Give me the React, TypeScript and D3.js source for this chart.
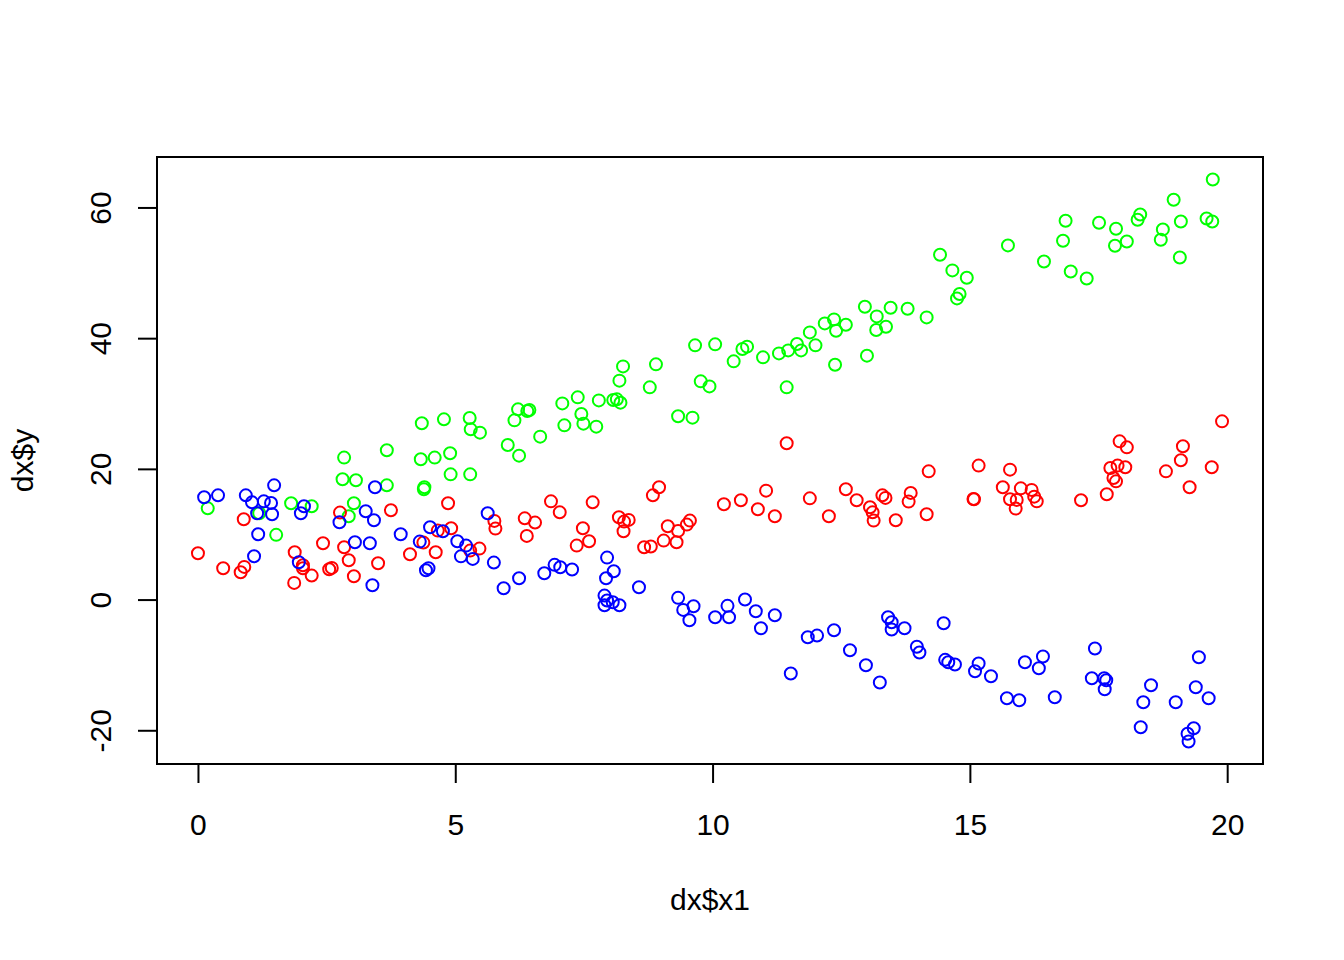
import * as d3 from "d3";
import { useEffect, useRef } from "react";

// scatter of dx$y against dx$x1, three groups coloured by R's red / green / blue

const greenPoints: [number, number][] = [
  [0.19, 13.96], [1.19, 13.2], [1.52, 9.9], [1.81, 14.73], [2.21, 14.27],
  [2.81, 18.4], [2.84, 21.72], [2.93, 12.74], [3.03, 14.73], [3.07, 18.25],
  [3.67, 22.84], [3.67, 17.48], [4.33, 21.46], [4.35, 26.97], [4.39, 16.87],
  [4.4, 17.18], [4.6, 21.72], [4.78, 27.58], [4.9, 22.38], [4.91, 19.16],
  [5.28, 27.79], [5.3, 26.05], [5.29, 19.16], [5.48, 25.54], [6.02, 23.66],
  [6.15, 27.42], [6.22, 29.11], [6.24, 22.02], [6.4, 28.86], [6.44, 29.01],
  [6.65, 24.93], [7.08, 30.02], [7.12, 26.66], [7.38, 30.94], [7.45, 28.4],
  [7.49, 26.92], [7.74, 26.46], [7.79, 30.48], [8.07, 30.54], [8.14, 30.64],
  [8.21, 30.13], [8.19, 33.5], [8.26, 35.68], [8.78, 32.47], [8.9, 35.99],
  [9.33, 28.04], [9.61, 27.84], [9.66, 38.9], [9.77, 33.39], [9.94, 32.62],
  [10.05, 39.05], [10.41, 36.45], [10.58, 38.34], [10.67, 38.7], [10.98, 37.06],
  [11.29, 37.67], [11.44, 32.47], [11.47, 38.13], [11.64, 39.11], [11.72, 38.13],
  [11.89, 40.88], [12.0, 38.9], [12.18, 42.26], [12.36, 42.87], [12.38, 35.94],
  [12.4, 41.14], [12.59, 42.06], [12.96, 44.81], [13.0, 37.32], [13.19, 43.33],
  [13.18, 41.25], [13.37, 41.75], [13.46, 44.66], [13.79, 44.51], [14.16, 43.18],
  [14.42, 52.77], [14.66, 50.37], [14.75, 46.08], [14.8, 46.76], [14.94, 49.25],
  [15.74, 54.19], [16.44, 51.74], [16.81, 54.91], [16.86, 57.97], [16.96, 50.21],
  [17.27, 49.14], [17.51, 57.66], [17.82, 54.14], [17.84, 56.74], [18.05, 54.8],
  [18.26, 58.12], [18.31, 58.93], [18.71, 55.06], [18.75, 56.64], [18.96, 61.18],
  [19.08, 52.35], [19.1, 57.86], [19.6, 58.32], [19.71, 57.86], [19.72, 64.28],
];

const redPoints: [number, number][] = [
  [0.0, 7.08], [0.49, 4.79], [0.83, 4.18], [0.89, 12.28], [0.9, 5.0],
  [1.87, 2.55], [1.88, 7.23], [2.04, 5.25], [2.04, 4.79], [2.21, 3.67],
  [2.43, 8.61], [2.55, 4.63], [2.6, 4.85], [2.76, 13.31], [2.84, 8.0],
  [2.93, 6.01], [3.03, 3.56], [3.5, 5.55], [3.75, 13.66], [4.12, 6.93],
  [4.38, 8.72], [4.62, 7.23], [4.66, 10.55], [4.86, 14.73], [4.92, 10.91],
  [5.29, 7.49], [5.47, 7.8], [5.76, 12.04], [5.78, 10.86], [6.35, 12.43],
  [6.39, 9.74], [6.55, 11.78], [6.86, 15.03], [7.03, 13.35], [7.36, 8.26],
  [7.48, 10.91], [7.6, 8.92], [7.67, 14.88], [8.18, 12.59], [8.28, 11.93],
  [8.37, 12.19], [8.27, 10.45], [8.67, 8.0], [8.8, 8.11], [8.84, 15.95],
  [8.96, 17.18], [9.05, 9.02], [9.13, 11.21], [9.3, 8.76], [9.33, 10.51],
  [9.5, 11.47], [9.56, 12.08], [10.22, 14.58], [10.55, 15.19], [10.88, 13.81],
  [11.04, 16.67], [11.21, 12.74], [11.44, 23.91], [11.89, 15.49], [12.26, 12.74],
  [12.59, 16.87], [12.8, 15.19], [13.06, 14.12], [13.11, 13.35], [13.13, 12.08],
  [13.3, 15.95], [13.36, 15.56], [13.56, 12.13], [13.81, 14.99], [13.85, 16.32],
  [14.16, 13.05], [14.2, 19.62], [15.07, 15.4], [15.08, 15.34], [15.17, 20.5],
  [15.64, 17.18], [15.78, 19.88], [15.78, 15.34], [15.91, 15.25], [15.89, 13.92],
  [15.99, 17.02], [16.2, 16.78], [16.25, 15.75], [16.3, 15.03], [17.16, 15.19],
  [17.66, 16.11], [17.73, 20.14], [17.79, 18.61], [17.84, 18.09], [17.87, 20.5],
  [17.91, 24.21], [18.02, 20.24], [18.05, 23.29], [18.81, 19.62], [19.1, 21.31],
  [19.14, 23.45], [19.27, 17.18], [19.7, 20.24], [19.9, 27.27],
];

const bluePoints: [number, number][] = [
  [0.12, 15.65], [0.39, 15.95], [0.93, 15.95], [1.05, 14.88], [1.09, 6.62],
  [1.15, 13.2], [1.17, 9.99], [1.28, 15.03], [1.42, 14.79], [1.44, 13.05],
  [1.48, 17.48], [1.96, 5.71], [2.0, 13.2], [2.06, 14.27], [2.75, 11.82],
  [3.05, 8.76], [3.26, 13.51], [3.34, 8.61], [3.39, 2.19], [3.42, 12.13],
  [3.44, 17.18], [3.94, 9.99], [4.31, 8.87], [4.43, 4.48], [4.48, 4.79],
  [4.51, 11.06], [4.76, 10.45], [5.04, 8.92], [5.11, 6.61], [5.21, 8.26],
  [5.34, 6.22], [5.63, 13.2], [5.75, 5.66], [5.94, 1.73], [6.24, 3.26],
  [6.73, 4.02], [6.93, 5.31], [7.04, 4.94], [7.27, 4.59], [7.9, 0.61],
  [7.9, -0.87], [7.93, 3.26], [7.95, 6.42], [7.95, -0.15], [8.06, -0.41],
  [8.08, 4.33], [8.19, -0.87], [8.57, 1.88], [9.33, 0.26], [9.43, -1.58],
  [9.55, -3.17], [9.63, -1.02], [10.05, -2.71], [10.29, -0.96], [10.32, -2.71],
  [10.63, 0.0], [10.84, -1.79], [10.94, -4.39], [11.21, -2.4], [11.52, -11.32],
  [11.85, -5.77], [12.03, -5.51], [12.36, -4.7], [12.67, -7.75], [12.98, -10.05],
  [13.25, -12.69], [13.41, -2.71], [13.48, -3.47], [13.48, -4.59], [13.73, -4.39],
  [13.97, -7.23], [14.02, -8.11], [14.49, -3.62], [14.52, -9.22], [14.58, -9.59],
  [14.71, -9.94], [15.1, -10.97], [15.17, -9.79], [15.41, -11.73], [15.72, -15.1],
  [15.96, -15.4], [16.07, -9.59], [16.34, -10.51], [16.42, -8.72], [16.65, -14.94],
  [17.37, -12.04], [17.43, -7.49], [17.61, -12.04], [17.65, -12.34], [17.62, -13.72],
  [18.32, -19.53], [18.37, -15.71], [18.52, -13.11], [19.0, -15.71], [19.23, -20.54],
  [19.25, -21.72], [19.35, -19.68], [19.39, -13.41], [19.45, -8.83], [19.64, -15.1],
];

const groups = [
  { name: "green", color: "#00ff00", points: greenPoints },
  { name: "red", color: "#ff0000", points: redPoints },
  { name: "blue", color: "#0000ff", points: bluePoints },
];

const xTicks = [0, 5, 10, 15, 20];
const yTicks = [-20, 0, 20, 40, 60];

export default function App() {
  const svgRef = useRef<SVGSVGElement>(null);

  useEffect(() => {
    if (!svgRef.current) return;
    const svg = d3.select(svgRef.current);
    svg.selectAll("*").remove();

    const W = 1344;
    const H = 960;
    const margin = { top: 157, right: 81, bottom: 196, left: 157 };
    const width = W - margin.left - margin.right;
    const height = H - margin.top - margin.bottom;
    const font = "'Liberation Sans', Arial, sans-serif";

    const all = groups.flatMap((g) => g.points);
    // R pads the data range by 4% on each side
    const pad = (ext: [number, number]): [number, number] => {
      const d = (ext[1] - ext[0]) * 0.04;
      return [ext[0] - d, ext[1] + d];
    };
    const x = d3
      .scaleLinear()
      .domain(pad(d3.extent(all, (p) => p[0]) as [number, number]))
      .range([0, width]);
    const y = d3
      .scaleLinear()
      .domain(pad(d3.extent(all, (p) => p[1]) as [number, number]))
      .range([height, 0]);

    const g = svg
      .append("g")
      .attr("transform", `translate(${margin.left},${margin.top})`);

    // points
    groups.forEach((grp) => {
      g.append("g")
        .selectAll("circle")
        .data(grp.points)
        .enter()
        .append("circle")
        .attr("cx", (d) => x(d[0]))
        .attr("cy", (d) => y(d[1]))
        .attr("r", 6)
        .attr("fill", "none")
        .attr("stroke", grp.color)
        .attr("stroke-width", 2);
    });

    // box
    g.append("rect")
      .attr("width", width)
      .attr("height", height)
      .attr("fill", "none")
      .attr("stroke", "black")
      .attr("stroke-width", 2);

    // R prints a plain hyphen for negative numbers
    const plain = (d: d3.NumberValue) => String(d);

    // x axis
    const xAxis = g
      .append("g")
      .attr("transform", `translate(0,${height})`)
      .call(
        d3
          .axisBottom(x)
          .tickValues(xTicks)
          .tickFormat(plain)
          .tickSize(19)
          .tickSizeOuter(0),
      );
    xAxis.select(".domain").remove();
    xAxis.selectAll("line").attr("stroke", "black").attr("stroke-width", 2);
    xAxis
      .selectAll("text")
      .attr("y", 71)
      .attr("dy", 0)
      .attr("fill", "black")
      .style("font-family", font)
      .style("font-size", "30px");

    // y axis, labels rotated like R's default las = 0
    const yAxis = g
      .append("g")
      .call(
        d3
          .axisLeft(y)
          .tickValues(yTicks)
          .tickFormat(plain)
          .tickSize(19)
          .tickSizeOuter(0),
      );
    yAxis.select(".domain").remove();
    yAxis.selectAll("line").attr("stroke", "black").attr("stroke-width", 2);
    yAxis
      .selectAll("text")
      .attr("x", 0)
      .attr("dy", 0)
      .attr("transform", "translate(-46,0) rotate(-90)")
      .attr("text-anchor", "middle")
      .attr("fill", "black")
      .style("font-family", font)
      .style("font-size", "30px");

    // axis titles
    svg
      .append("text")
      .attr("x", margin.left + width / 2)
      .attr("y", 910)
      .attr("text-anchor", "middle")
      .style("font-family", font)
      .style("font-size", "30px")
      .text("dx$x1");

    svg
      .append("text")
      .attr("transform", `translate(33,${margin.top + height / 2}) rotate(-90)`)
      .attr("text-anchor", "middle")
      .style("font-family", font)
      .style("font-size", "30px")
      .text("dx$y");
  }, []);

  return (
    <svg
      ref={svgRef}
      width="1344"
      height="960"
      style={{ position: "absolute", left: 0, top: 0, background: "white" }}
    />
  );
}
